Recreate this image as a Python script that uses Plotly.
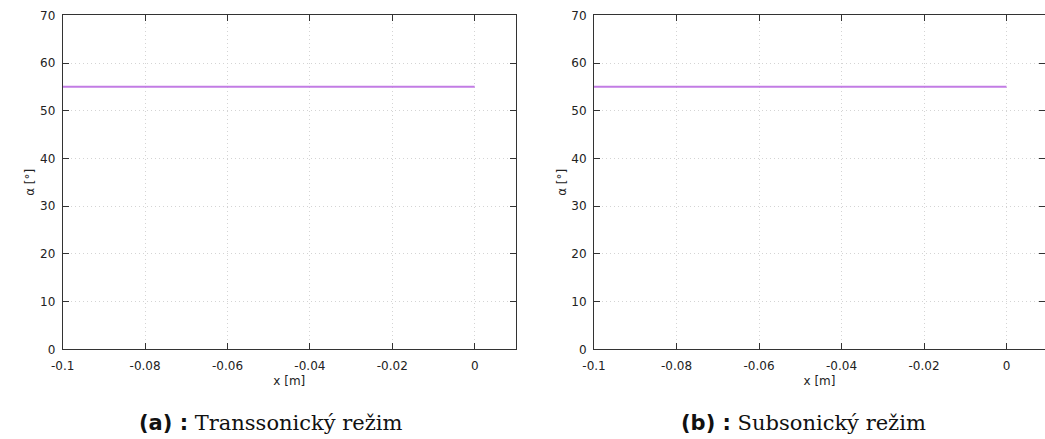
import plotly.graph_objects as go
from plotly.subplots import make_subplots

# Flow angle along the x coordinate for two regimes
x_pos = [-0.1, -0.08, -0.06, -0.04, -0.02, 0.0]
alpha_transsonic = [55, 55, 55, 55, 55, 55]
alpha_subsonic = [55, 55, 55, 55, 55, 55]

x_ticks = [-0.1, -0.08, -0.06, -0.04, -0.02, 0]
x_tick_text = ["-0.1", "-0.08", "-0.06", "-0.04", "-0.02", "0"]
y_ticks = [0, 10, 20, 30, 40, 50, 60, 70]

captions = ["(a) :", "(b) :"]
caption_text = ["Transsonický režim", "Subsonický režim"]

W, H = 1045, 439
LINE_COLOR = "#c27ce4"
TICK_FONT = dict(family="DejaVu Sans", size=12, color="#222")

fig = make_subplots(rows=1, cols=2)
for i, ys in enumerate([alpha_transsonic, alpha_subsonic], start=1):
    fig.add_trace(go.Scatter(x=x_pos, y=ys, mode="lines",
                             line=dict(color=LINE_COLOR, width=2),
                             showlegend=False), row=1, col=i)

y_dom = [(H - 349.3) / H, (H - 15.3) / H]
x_doms = [[62.7 / W, 515.9 / W], [594.0 / W, 1.0]]
x_ranges = [[-0.1, 0.01], [-0.1, -0.1 + (W - 594.0) / 412.5 * 0.1]]

for i in range(2):
    xa = "xaxis" if i == 0 else "xaxis2"
    ya = "yaxis" if i == 0 else "yaxis2"
    fig.layout[xa].update(
        domain=x_doms[i], range=x_ranges[i], tickvals=x_ticks, ticktext=x_tick_text,
        ticks="inside", ticklen=6, tickcolor="#333", showline=True, linecolor="#333",
        linewidth=1, mirror="allticks", showgrid=True, gridcolor="#d4d4d4",
        griddash="1px,3px", gridwidth=1, zeroline=False, tickfont=TICK_FONT,
        ticklabelstandoff=5, automargin=False,
        title=dict(text="x [m]", font=TICK_FONT, standoff=4))
    fig.layout[ya].update(
        domain=y_dom, range=[0, 70], tickvals=y_ticks, ticks="inside", ticklen=6,
        tickcolor="#333", showline=True, linecolor="#333", linewidth=1,
        mirror="allticks", showgrid=True, gridcolor="#d4d4d4", griddash="1px,3px",
        gridwidth=1, zeroline=False, tickfont=TICK_FONT,
        ticklabelstandoff=4, automargin=False,
        title=dict(text="α [°]", font=TICK_FONT, standoff=2))

caption_x = [271 / W, 803.5 / W]
for i in range(2):
    fig.add_annotation(
        x=caption_x[i], y=(H - 423) / H, xref="paper", yref="paper",
        xanchor="center", yanchor="middle", showarrow=False,
        text=(f"<span style='font-family:DejaVu Sans;font-weight:bold'>{captions[i]}</span>"
              f" {caption_text[i]}"),
        font=dict(family="DejaVu Serif", size=21, color="#111"))

fig.update_layout(width=W, height=H, margin=dict(l=0, r=0, t=0, b=0),
                  plot_bgcolor="white", paper_bgcolor="white")

fig.write_html("out.html")
